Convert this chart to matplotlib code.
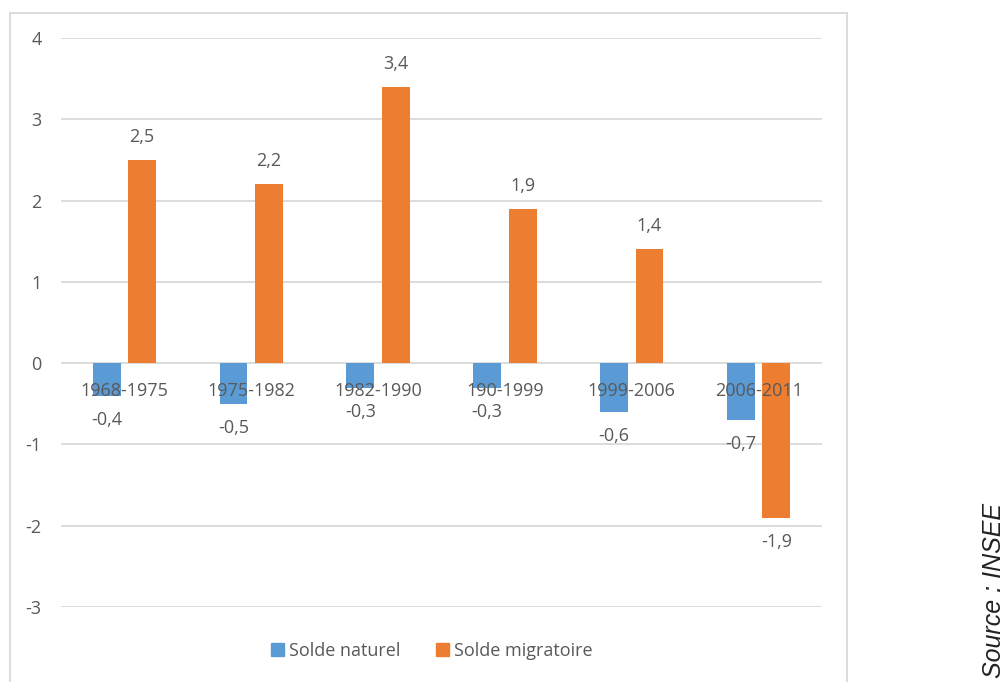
import matplotlib
matplotlib.use("Agg")
import matplotlib.pyplot as plt
from matplotlib.patches import Rectangle, Patch

periodes = ["1968-1975", "1975-1982", "1982-1990", "190-1999", "1999-2006", "2006-2011"]
solde_naturel = [-0.4, -0.5, -0.3, -0.3, -0.6, -0.7]
solde_migratoire = [2.5, 2.2, 3.4, 1.9, 1.4, -1.9]

bleu = "#5B9BD5"
orange = "#ED7D31"
gris_texte = "#595959"
gris_grille = "#D9D9D9"

plt.rcParams["font.family"] = ["Open Sans", "DejaVu Sans"]
plt.rcParams["font.size"] = 13
plt.rcParams["axes.unicode_minus"] = False

fig = plt.figure(figsize=(10.08, 6.82), dpi=100)
W, H = 1008, 682

# cadre du graphique
fig.patches.append(Rectangle((10 / W, -0.05), (847 - 10) / W, 1 - 13 / H + 0.05,
                             transform=fig.transFigure, fill=False,
                             edgecolor=gris_grille, linewidth=1.3))

ax = fig.add_axes([61 / W, 1 - 607 / H, (822 - 61) / W, (607 - 38) / H])

x = list(range(len(periodes)))
largeur = 0.22
ecart = 0.14
b1 = ax.bar([i - ecart for i in x], solde_naturel, largeur, color=bleu, zorder=2)
b2 = ax.bar([i + ecart for i in x], solde_migratoire, largeur, color=orange, zorder=2)

def etiquettes(bars, valeurs):
    for rect, v in zip(bars, valeurs):
        cx = rect.get_x() + rect.get_width() / 2
        dy = 16.5 if v >= 0 else -17.5
        ax.annotate(f"{v:.1f}".replace(".", ","), (cx, v), xytext=(0, dy),
                    textcoords="offset points", ha="center", va="center",
                    color=gris_texte, fontsize=13, zorder=3)

etiquettes(b1, solde_naturel)
etiquettes(b2, solde_migratoire)

# libelles des periodes le long de l'axe a zero
for i, p in zip(x, periodes):
    ax.annotate(p, (i, 0), xytext=(0, -20), textcoords="offset points",
                ha="center", va="center", color=gris_texte, fontsize=13, zorder=3)

ax.set_xlim(-0.5, len(periodes) - 0.5)
ax.set_ylim(-3, 4)
ax.set_yticks(range(-3, 5))
ax.set_xticks([])
ax.tick_params(axis="y", length=0, pad=14, labelcolor=gris_texte, labelsize=13)
for s in ax.spines.values():
    s.set_visible(False)
ax.yaxis.grid(True, color=gris_grille, linewidth=1.3, zorder=0)
ax.set_axisbelow(True)

fig.legend(handles=[Patch(color=bleu, label="Solde naturel"),
                    Patch(color=orange, label="Solde migratoire")],
           loc="center", bbox_to_anchor=(432 / W, 1 - 651 / H), ncol=2,
           frameon=False, handlelength=0.7, handleheight=0.7,
           handletextpad=0.3, columnspacing=2.0, fontsize=13,
           labelcolor=gris_texte)

fig.text(994 / W, 1 - 503 / H, "Source : INSEE", rotation=90, ha="center",
         va="top", fontsize=18, style="italic", family="Liberation Sans",
         color="#222222")

plt.savefig("out.png", dpi=100)
